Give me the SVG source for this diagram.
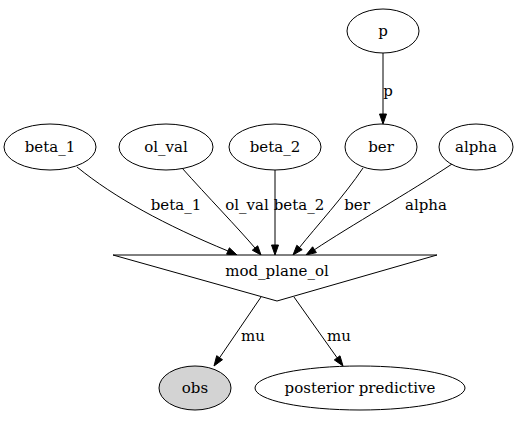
<svg xmlns="http://www.w3.org/2000/svg" width="528" height="424" viewBox="0 0 528 424">
<style>
.n{fill:#fff;stroke:#000;stroke-width:1}
text{font-family:"DejaVu Serif","Liberation Serif",serif;font-size:15px;fill:#000;text-anchor:middle}
.e{fill:none;stroke:#000;stroke-width:1}
.a{fill:#000;stroke:#000;stroke-width:1}
</style>
<rect width="528" height="424" fill="#fff"/>
<g id="edges">
<path class="e" d="M383,53 L383,114"/>
<polygon class="a" points="379.5,114 386.5,114 383,124"/>
<text x="388" y="96">p</text>
<path class="e" d="M77,167 C115,198 165,225 228,251"/>
<polygon class="a" points="226.6,254.2 229.4,247.8 237,255"/>
<text x="176" y="210">beta_1</text>
<path class="e" d="M182,168 C207,196 238,228 255,248"/>
<polygon class="a" points="252.3,250.2 257.7,245.8 261,255"/>
<text x="247" y="210">ol_val</text>
<path class="e" d="M275,170 L275,245"/>
<polygon class="a" points="271.5,245 278.5,245 275,255"/>
<text x="299" y="210">beta_2</text>
<path class="e" d="M363,168 C345,195 315,228 299.5,247.5"/>
<polygon class="a" points="296.8,245.3 302.2,249.7 293,255"/>
<text x="357" y="210">ber</text>
<path class="e" d="M452,164 C410,192 350,226 314.5,249.7"/>
<polygon class="a" points="312.6,246.8 316.4,252.6 306,255"/>
<text x="426" y="210">alpha</text>
<path class="e" d="M261,297 L219.6,357.7"/>
<polygon class="a" points="216.7,355.7 222.5,359.7 214,366"/>
<text x="253" y="341">mu</text>
<path class="e" d="M294,297 L337.2,357.9"/>
<polygon class="a" points="334.3,359.9 340,355.8 343,366"/>
<text x="339" y="341">mu</text>
</g>
<g id="p"><ellipse class="n" cx="383" cy="31" rx="36" ry="22"/><text x="383" y="36">p</text></g>
<g id="beta_1"><ellipse class="n" cx="50" cy="147" rx="46" ry="23"/><text x="50" y="152">beta_1</text></g>
<g id="ol_val"><ellipse class="n" cx="166" cy="147" rx="47" ry="23"/><text x="166" y="152">ol_val</text></g>
<g id="beta_2"><ellipse class="n" cx="275" cy="147" rx="46" ry="23"/><text x="275" y="152">beta_2</text></g>
<g id="ber"><ellipse class="n" cx="381" cy="147" rx="36" ry="23"/><text x="381" y="152">ber</text></g>
<g id="alpha"><ellipse class="n" cx="476" cy="147" rx="37" ry="23"/><text x="476" y="152">alpha</text></g>
<g id="mod_plane_ol"><polygon class="n" points="113,255 437,255 277,301"/><text x="277" y="276">mod_plane_ol</text></g>
<g id="obs"><ellipse cx="195" cy="388" rx="36" ry="22" fill="#d3d3d3" stroke="#000"/><text x="195" y="393">obs</text></g>
<g id="posterior_predictive"><ellipse class="n" cx="360" cy="388" rx="105" ry="22"/><text x="360" y="393">posterior predictive</text></g>
</svg>
